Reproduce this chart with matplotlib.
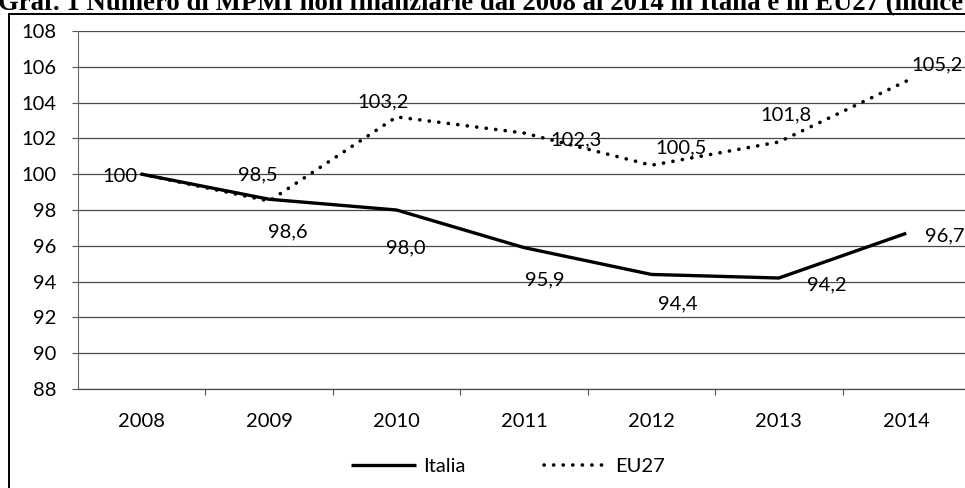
import matplotlib
matplotlib.use("Agg")
import matplotlib.pyplot as plt
from matplotlib.patches import Rectangle
from matplotlib.ticker import FixedLocator

# ---- data ----
years = ["2008", "2009", "2010", "2011", "2012", "2013", "2014"]
italia = [100.0, 98.6, 98.0, 95.9, 94.4, 94.2, 96.7]
eu27 = [100.0, 98.5, 103.2, 102.3, 100.5, 101.8, 105.2]
italia_labels = ["100", "98,6", "98,0", "95,9", "94,4", "94,2", "96,7"]
eu27_labels = ["", "98,5", "103,2", "102,3", "100,5", "101,8", "105,2"]
yticks = [88, 90, 92, 94, 96, 98, 100, 102, 104, 106, 108]
title = "Graf. 1 Numero di MPMI non finanziarie dal 2008 al 2014 in Italia e in EU27 (indice"

# ---- layout (label offsets in pixels, not data) ----
it_off = [(-22, -2), (19, -33), (9, -38), (21, -32), (26, -29), (48, -7), (19, -3)]
eu_off = [(0, 0), (-11, 26), (-14, 15), (52, -7), (30, 17), (7, 27), (31, 16)]

W, H, DPI = 965, 488, 100
FONT = "Lato"
FS = 14.5
plt.rcParams["font.family"] = [FONT, "DejaVu Sans"]

fig = plt.figure(figsize=(W / DPI, H / DPI), dpi=DPI)
fig.patch.set_facecolor("white")

left, right = 78 / W, 970 / W
bottom, top = (H - 389) / H, (H - 31) / H
ax = fig.add_axes([left, bottom, right - left, top - bottom])

x = list(range(len(years)))
ax.plot(x, italia, color="black", lw=2.4, solid_capstyle="butt",
        solid_joinstyle="round", label="Italia", zorder=3)
ax.plot(x, eu27, color="black", lw=2.6, linestyle=(0, (0.05, 2.6)),
        dash_capstyle="round", label="EU27", zorder=3)

ax.set_xlim(-0.5, len(years) - 0.5)
ax.set_ylim(88, 108)
ax.set_yticks(yticks)
ax.set_yticklabels([str(v) for v in yticks])
ax.set_xticks(x)
ax.set_xticklabels(years)
ax.xaxis.set_minor_locator(FixedLocator([i + 0.5 for i in range(len(years) - 1)]))

ax.grid(axis="y", color="#4a4a4a", lw=0.9)
ax.set_axisbelow(True)
for s in ["top", "right"]:
    ax.spines[s].set_visible(False)
ax.spines["left"].set_color("#666666")
ax.spines["left"].set_linewidth(0.8)
ax.spines["bottom"].set_color("#4a4a4a")
ax.spines["bottom"].set_linewidth(0.9)

ax.tick_params(axis="y", which="major", length=4.3, width=0.8, color="#555555",
               pad=11, labelsize=FS, labelcolor="black")
ax.tick_params(axis="x", which="major", length=0, pad=17, labelsize=FS,
               labelcolor="black")
ax.tick_params(axis="x", which="minor", length=4.5, width=0.8, color="#555555")

px2pt = 72 / DPI
for i, (v, t) in enumerate(zip(italia, italia_labels)):
    dx, dy = it_off[i]
    ha = "left" if i == len(years) - 1 else "center"
    ax.annotate(t, (x[i], v), xytext=(dx * px2pt, dy * px2pt),
                textcoords="offset points", ha=ha, va="center",
                fontsize=FS, annotation_clip=False)
for i, (v, t) in enumerate(zip(eu27, eu27_labels)):
    if not t:
        continue
    dx, dy = eu_off[i]
    ax.annotate(t, (x[i], v), xytext=(dx * px2pt, dy * px2pt),
                textcoords="offset points", ha="center", va="center",
                fontsize=FS, annotation_clip=False)

fig.legend(loc="center", bbox_to_anchor=(508 / W, 1 - 466 / H), ncol=2,
           frameon=False, fontsize=FS, handlelength=3.2, columnspacing=3.9,
           handletextpad=0.35)

fig.add_artist(Rectangle((8.5 / W, -0.05), 1.2, 1 - 14 / H + 0.05,
                         transform=fig.transFigure, fill=False,
                         edgecolor="black", lw=1.4))

fig.text(-2 / W, 1 - 10 / H, title, ha="left", va="baseline",
         fontsize=19.3, fontweight="bold",
         family=["Liberation Serif", "DejaVu Serif"])

fig.savefig("out.png", dpi=DPI)
